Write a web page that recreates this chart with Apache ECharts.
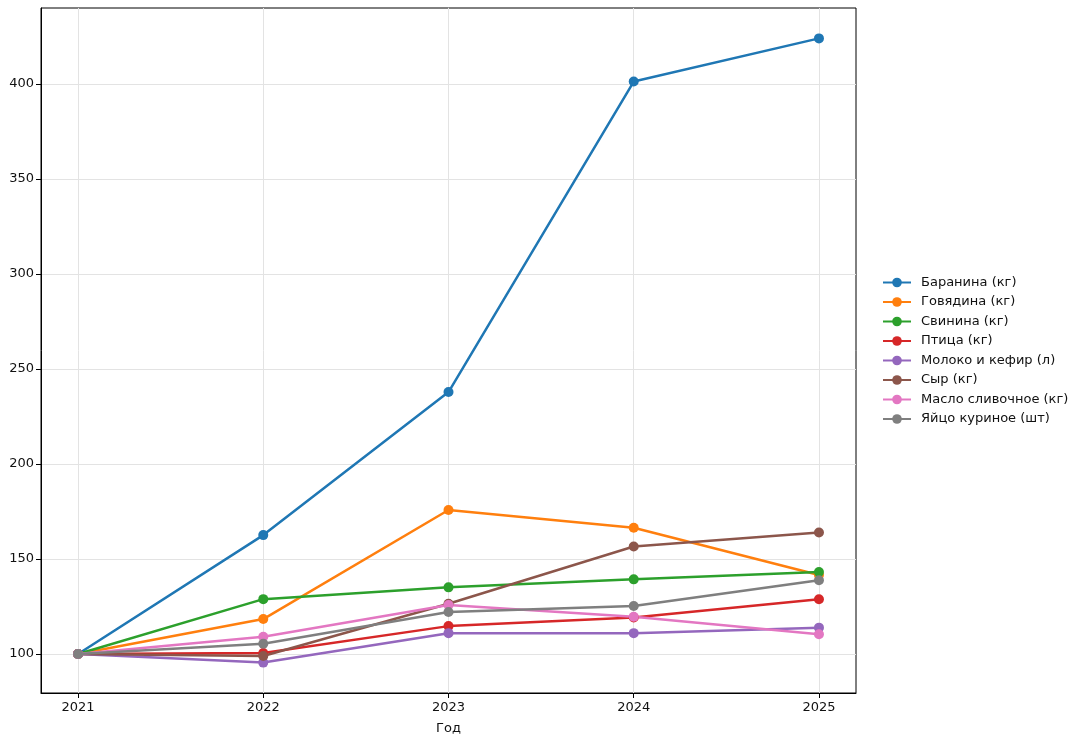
<!DOCTYPE html>
<html><head><meta charset="utf-8">
<script src="https://cdn.jsdelivr.net/npm/echarts@6/dist/echarts.min.js"></script>
<style>html,body{margin:0;padding:0;background:#fff}#c{width:1086px;height:746px}</style>
</head><body><div id="c"></div>
<script>
const years = [2021, 2022, 2023, 2024, 2025];
const yTicks = [100, 150, 200, 250, 300, 350, 400];
const names = ['Баранина (кг)', 'Говядина (кг)', 'Свинина (кг)', 'Птица (кг)', 'Молоко и кефир (л)', 'Сыр (кг)', 'Масло сливочное (кг)', 'Яйцо куриное (шт)'];
const lamb   = [100, 162.6, 237.9, 401.3, 424.0];
const beef   = [100, 118.4, 175.8, 166.5, 141.6];
const pork   = [100, 128.9, 135.1, 139.3, 143.2];
const poultry= [100, 100.5, 114.7, 119.2, 128.8];
const milk   = [100, 95.5, 111.0, 111.0, 113.9];
const cheese = [100, 99.0, 126.5, 156.6, 164.0];
const butter = [100, 109.1, 125.8, 119.6, 110.4];
const eggs   = [100, 105.4, 122.1, 125.3, 138.8];
const values = [lamb, beef, pork, poultry, milk, cheese, butter, eggs];
const colors = ['#1f77b4', '#ff7f0e', '#2ca02c', '#d62728', '#9467bd', '#8c564b', '#e377c2', '#7f7f7f'];

const font = 'DejaVu Sans';
const chart = echarts.init(document.getElementById('c'));
chart.setOption({
  animation: false,
  color: colors,
  textStyle: {fontFamily: font},
  grid: {left: 41, right: 230, top: 8, bottom: 53, show: true, borderColor: '#000', borderWidth: 1, containLabel: false},
  legend: {
    orient: 'vertical', left: 877, top: 271, itemWidth: 28, itemHeight: 12, itemGap: 7.6 - 1.1,
    textStyle: {fontFamily: font, fontSize: 13, color: '#111', padding: [0, 0, 0, 5]},
    data: names
  },
  xAxis: {
    type: 'value', min: 2020.8, max: 2025.2,
    name: 'Год', nameLocation: 'middle', nameGap: 29,
    nameTextStyle: {fontFamily: font, fontSize: 13, color: '#111'},
    axisLine: {lineStyle: {color: '#000', width: 1}},
    axisTick: {show: true, length: 5, lineStyle: {color: '#000'}, customValues: years},
    axisLabel: {customValues: years, fontFamily: font, fontSize: 13, color: '#111', margin: 8, formatter: v => String(v)},
    splitLine: {show: true, lineStyle: {color: '#e3e3e3', width: 1}}
  },
  yAxis: {
    type: 'value', min: 79.5, max: 440,
    axisLine: {show: true, lineStyle: {color: '#000', width: 1}},
    axisTick: {show: true, length: 5, lineStyle: {color: '#000'}, customValues: yTicks},
    axisLabel: {customValues: yTicks, fontFamily: font, fontSize: 13, color: '#111', margin: 7},
    splitLine: {show: true, lineStyle: {color: '#e3e3e3', width: 1}}
  },
  series: names.map((n, i) => ({
    name: n, type: 'line',
    data: years.map((y, j) => [y, values[i][j]]),
    symbol: 'circle', symbolSize: 10,
    lineStyle: {width: 2.5, color: colors[i]},
    itemStyle: {color: colors[i]},
    emphasis: {disabled: true}
  }))
});
</script></body></html>
